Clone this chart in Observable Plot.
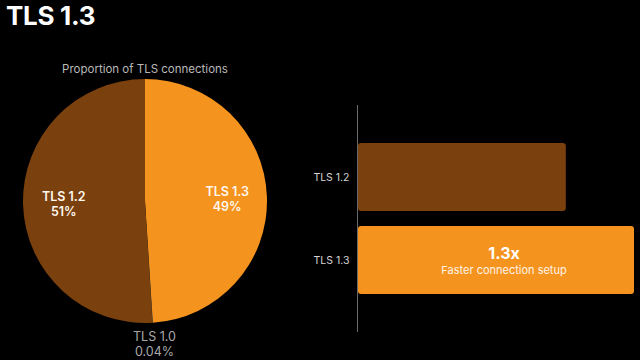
<!DOCTYPE html>
<html><head><meta charset="utf-8">
<script src="https://cdn.jsdelivr.net/npm/d3@7"></script>
<script src="https://cdn.jsdelivr.net/npm/@observablehq/plot@0.6"></script>
<style>
html,body{margin:0;padding:0;background:#000;width:640px;height:360px;overflow:hidden;font-family:Inter,"Noto Sans",sans-serif;}
#title{position:absolute;left:6px;top:3px;font-size:26px;font-weight:700;color:#fff;line-height:26px;letter-spacing:-0.3px}
#subtitle{position:absolute;left:0;width:290px;text-align:center;top:61px;font-size:11.5px;color:#b9b9b9;line-height:16px}
#pie{position:absolute;left:0;top:40px}
#bars{position:absolute;left:290px;top:0}
</style></head><body>
<div id="title">TLS 1.3</div>
<div id="subtitle">Proportion of TLS connections</div>
<div id="pie"></div><div id="bars"></div>
<script>
// Pie: share of TLS connections (%)
const versions = ["TLS 1.3", "TLS 1.0", "TLS 1.2"];
const shares = [49, 0.04, 51];
const pieColors = ["#f5931f", "#8a8a8a", "#7a400e"];
// Bars: relative connection setup speed
const barVersions = ["TLS 1.2", "TLS 1.3"];
const barValues = [0.98, 1.3];
const barColors = ["#7a400e", "#f5931f"];
const speedup = "1.3x";
const speedupNote = "Faster connection setup";

const pieData = versions.map((v, i) => ({version: v, share: shares[i]}));
const arcs = d3.pie().sort(null).value(d => d.share)(pieData);
const labelData = arcs.map(a => {
  const m = (a.startAngle + a.endAngle) / 2;
  const outside = a.data.share < 1;
  const r = outside ? 1.17 : 0.67;
  return {version: a.data.version, share: a.data.share, outside, x: r * Math.sin(m), y: r * Math.cos(m)};
});

function pieMark(index, scales) {
  const cx = scales.x(0), cy = scales.y(0), r = scales.x(1) - cx;
  const g = d3.create("svg:g").attr("transform", `translate(${cx},${cy})`);
  g.selectAll("path").data(arcs).join("path")
    .attr("d", d3.arc().innerRadius(0).outerRadius(r))
    .attr("fill", d => scales.color(d.data.version));
  return g.node();
}

const pie = Plot.plot({
  width: 290, height: 320,
  marginLeft: 23, marginRight: 23, marginTop: 39, marginBottom: 37,
  x: {domain: [-1, 1], axis: null},
  y: {domain: [-1, 1], axis: null},
  color: {domain: versions, range: pieColors},
  style: {background: "transparent", fontFamily: "Inter, 'Noto Sans', sans-serif"},
  marks: [
    Plot.dot(pieData, {x: () => 0, y: () => 0, fill: "version", r: 0}),
    pieMark,
    Plot.text(labelData.filter(d => !d.outside), {
      x: "x", y: "y", text: d => `${d.version}\n${d.share}%`,
      fill: "#fff8ee", fontSize: 12.5, fontWeight: 600, lineHeight: 1.2
    }),
    Plot.text(labelData.filter(d => d.outside), {
      x: "x", y: "y", text: d => `${d.version}\n${d.share}%`,
      fill: "#a8a8a8", fontSize: 12.5, fontWeight: 400, lineHeight: 1.2
    })
  ]
});
document.getElementById("pie").append(pie);

const barData = barVersions.map((v, i) => ({version: v, value: barValues[i]}));
const annot = barData.filter(d => d.version === "TLS 1.3");

const bars = Plot.plot({
  width: 350, height: 360,
  marginLeft: 67, marginRight: 6, marginTop: 105, marginBottom: 28,
  x: {domain: [0, 1.3], axis: null},
  y: {domain: barVersions, padding: 0.18, insetTop: 22, insetBottom: 22, label: null, tickSize: 0, tickPadding: 8},
  color: {domain: barVersions, range: barColors},
  style: {background: "transparent", color: "#d4d4d4", fontSize: "10.5px", fontFamily: "Inter, 'Noto Sans', sans-serif"},
  marks: [
    Plot.ruleX([0], {stroke: "#6a6a6a", strokeWidth: 1}),
    Plot.barX(barData, {y: "version", x: "value", fill: "version", rx: 3, insetLeft: 1}),
    Plot.text(annot, {y: "version", x: d => d.value / 2, dx: 8, dy: -7, text: () => speedup,
      fill: "#fff", fontSize: 16, fontWeight: 700}),
    Plot.text(annot, {y: "version", x: d => d.value / 2, dx: 8, dy: 9.5, text: () => speedupNote,
      fill: "#fff4e6", fontSize: 11, fontWeight: 400})
  ]
});
document.getElementById("bars").append(bars);
</script>
</body></html>
